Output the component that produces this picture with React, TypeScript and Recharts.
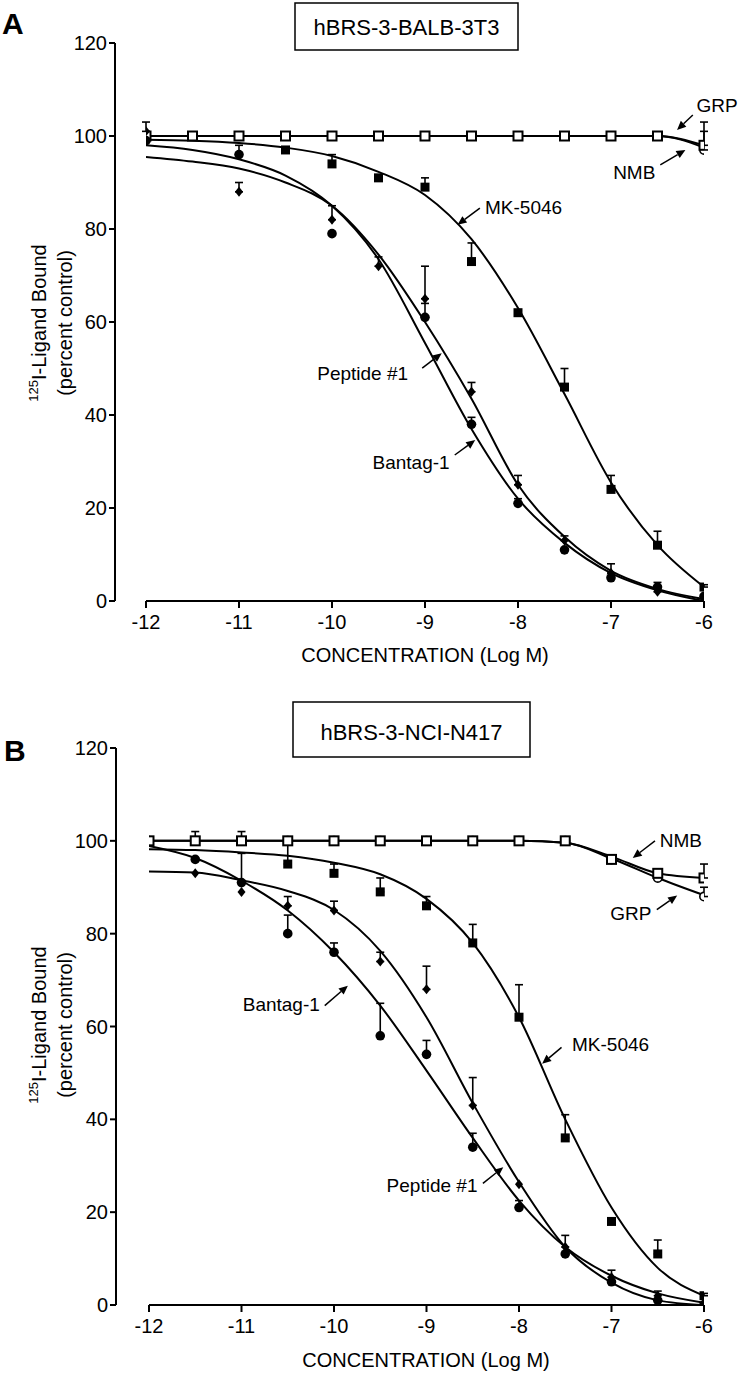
import React from "react";
import {
  ComposedChart,
  Line,
  Scatter,
  ErrorBar,
  XAxis,
  YAxis,
  ReferenceLine,
  ReferenceDot,
} from "recharts";

const FONT = '"Liberation Sans", Arial, sans-serif';

// concentration grid (log M)
const LOG_M = [-12, -11.5, -11, -10.5, -10, -9.5, -9, -8.5, -8, -7.5, -7, -6.5, -6];
const X_TICKS = [-12, -11, -10, -9, -8, -7, -6];
const Y_TICKS = [0, 20, 40, 60, 80, 100, 120];

// panel A: hBRS-3-BALB-3T3 -- measured points (mean) and upward SEM
const A_GRP = [100, 100, 100, 100, 100, 100, 100, 100, 100, 100, 100, 100, 98];
const A_GRP_ERR = [0, 0, 0, 0, 0, 0, 0, 0, 0, 0, 0, 0, 5];
const A_NMB = [100, 100, 100, 100, 100, 100, 100, 100, 100, 100, 100, 100, 97];
const A_NMB_ERR = [0, 0, 0, 0, 0, 0, 0, 0, 0, 0, 0, 0, 4];
const A_MK = [null, null, null, 97, 94, 91, 89, 73, 62, 46, 24, 12, 3];
const A_MK_ERR = [0, 0, 0, 0, 2, 0, 2, 4, 0, 4, 3, 3, 0.5];
const A_PEP = [101, null, 88, null, 82, 72, 65, 45, 25, 13, 6, 2, 0.5];
const A_PEP_ERR = [2, 0, 2, 0, 3, 2, 7, 2, 2, 1, 2, 1, 0];
const A_BAN = [99, null, 96, null, 79, null, 61, 38, 21, 11, 5, 3, 1];
const A_BAN_ERR = [0, 0, 2, 0, 0, 0, 3, 1.5, 1, 0, 0, 1, 0];

// panel A fitted curves read at the same grid
const A_GRP_FIT = [100, 100, 100, 100, 100, 100, 100, 100, 100, 100, 100, 100, 98];
const A_NMB_FIT = [100, 100, 100, 100, 100, 100, 100, 100, 100, 100, 100, 100, 97.5];
const A_MK_FIT = [99.2, 99, 98.5, 97.5, 95.7, 92.3, 87.3, 77.8, 63, 44.5, 25.5, 12, 3];
const A_PEP_FIT = [95.5, 94.5, 93, 90, 85, 74.5, 60, 43.5, 25, 13.8, 6.5, 2.6, 0.4];
const A_BAN_FIT = [98, 97, 95, 91.5, 85, 73.5, 55.5, 37, 22, 12.5, 6, 2.3, 0];

// panel B: hBRS-3-NCI-N417
const B_NMB = [100, 100, 100, 100, 100, 100, 100, 100, 100, 100, 96, 93, 92];
const B_NMB_ERR = [0, 2, 2, 0, 0, 0, 0, 0, 0, 0, 0, 0, 3];
const B_GRP = [100, 100, 100, 100, 100, 100, 100, 100, 100, 100, 96, 92, 88];
const B_GRP_ERR = [0, 0, 0, 0, 0, 0, 0, 0, 0, 0, 0, 0, 2];
const B_MK = [null, null, null, 95, 93, 89, 86, 78, 62, 36, 18, 11, 2];
const B_MK_ERR = [0, 0, 0, 5, 2, 3, 2, 4, 7, 5, 0, 3, 0.5];
const B_PEP = [null, 93, 89, 86, 85, 74, 68, 43, 26, 12.5, 6, 2, 0.5];
const B_PEP_ERR = [0, 0, 0, 2, 2, 2, 5, 6, 0, 2.5, 1.5, 1, 0];
const B_BAN = [null, 96, 91, 80, 76, 58, 54, 34, 21, 11, 5, 1, 0];
const B_BAN_ERR = [0, 0, 6.3, 4, 2, 7, 3, 3, 1.5, 0, 0, 0, 0];

const B_NMB_FIT = [100, 100, 100, 100, 100, 100, 100, 100, 100, 99.6, 96.6, 93, 92];
const B_GRP_FIT = [100, 100, 100, 100, 100, 100, 100, 100, 100, 99.6, 96.2, 92, 88.3];
const B_MK_FIT = [98.2, 98, 97.5, 96.8, 95.3, 92.8, 87.5, 78, 62, 40, 21, 8, 2];
const B_PEP_FIT = [93.4, 93.2, 91.5, 89.2, 85.1, 76.3, 62, 43.5, 26.5, 12.5, 4.8, 1, 0];
const B_BAN_FIT = [98.9, 96.3, 91.4, 85, 76, 64.5, 50.5, 36, 22.5, 12.5, 6.3, 2.5, 0.5];

type Num = number | null;

const points = (ys: Num[], errs: number[]) =>
  LOG_M.map((x, i) => ({ x, y: ys[i], e: errs[i] }))
    .filter((p) => p.y != null)
    .map((p) => ({ x: p.x, y: p.y as number, err: [0, p.e] }));

const curve = (ys: number[]) => LOG_M.map((x, i) => ({ x, y: ys[i] }));

// marker shapes
const OpenSquare = (p: any) => (
  <rect x={p.cx - 4.5} y={p.cy - 4.5} width={9} height={9} fill="#fff" stroke="#000" strokeWidth={2} />
);
const FilledSquare = (p: any) => (
  <rect x={p.cx - 4.5} y={p.cy - 4.5} width={9} height={9} fill="#000" />
);
const OpenCircle = (p: any) => (
  <circle cx={p.cx} cy={p.cy} r={4.2} fill="#fff" stroke="#000" strokeWidth={1.6} />
);
const FilledCircle = (p: any) => <circle cx={p.cx} cy={p.cy} r={4.8} fill="#000" />;
const Diamond = (p: any) => (
  <polygon
    points={`${p.cx},${p.cy - 5} ${p.cx + 4},${p.cy} ${p.cx},${p.cy + 5} ${p.cx - 4},${p.cy}`}
    fill="#000"
  />
);
const Nothing = () => <g />;

const Arrow = (p: any) => {
  const { x1, y1, x2, y2 } = p;
  const a = Math.atan2(y2 - y1, x2 - x1);
  const L = 9;
  const W = 4;
  const bx = x2 - L * Math.cos(a);
  const by = y2 - L * Math.sin(a);
  return (
    <g>
      <line x1={x1} y1={y1} x2={bx} y2={by} stroke="#000" strokeWidth={1.5} />
      <polygon
        points={`${x2},${y2} ${bx - W * Math.sin(a)},${by + W * Math.cos(a)} ${bx + W * Math.sin(a)},${by - W * Math.cos(a)}`}
        fill="#000"
      />
    </g>
  );
};

type Series = {
  pts: ReturnType<typeof points>;
  fit: { x: number; y: number }[];
  shape: (p: any) => React.ReactElement;
};

type Note = { text: string; tx: number; ty: number; ax: [number, number, number, number] };

function Panel({
  series,
  notes,
  height,
  marginTop,
  marginBottom,
  marginLeft,
  padLeft,
}: {
  series: Series[];
  notes: Note[];
  height: number;
  marginTop: number;
  marginBottom: number;
  marginLeft: number;
  padLeft: number;
}) {
  const tick = { fontSize: 20, fill: "#000", fontFamily: FONT };
  return (
    <ComposedChart
      width={740}
      height={height}
      margin={{ top: marginTop, right: 36, bottom: marginBottom, left: marginLeft }}
    >
      <XAxis
        type="number"
        dataKey="x"
        domain={[-12, -6]}
        ticks={X_TICKS}
        padding={{ left: padLeft, right: 0 }}
        axisLine={false}
        tickLine={{ stroke: "#000", strokeWidth: 2 }}
        tickSize={7}
        tickMargin={7}
        tick={tick}
        height={40}
        allowDataOverflow
      />
      <YAxis
        type="number"
        domain={[0, 120]}
        ticks={Y_TICKS}
        axisLine={{ stroke: "#000", strokeWidth: 2 }}
        tickLine={{ stroke: "#000", strokeWidth: 2 }}
        tickSize={6}
        tickMargin={2}
        tick={tick}
        width={60}
        allowDataOverflow
      />
      <ReferenceLine
        segment={[
          { x: -12, y: 0 },
          { x: -6, y: 0 },
        ]}
        stroke="#000"
        strokeWidth={2}
        ifOverflow="visible"
      />
      {series.map((s, i) => (
        <Line
          key={`fit-${i}`}
          data={s.fit}
          dataKey="y"
          type="monotone"
          stroke="#000"
          strokeWidth={2}
          dot={false}
          activeDot={false}
          isAnimationActive={false}
        />
      ))}
      {series.map((s, i) => (
        <Scatter
          key={`err-${i}`}
          data={s.pts.filter((p) => p.err[1] > 0)}
          dataKey="y"
          shape={Nothing}
          isAnimationActive={false}
        >
          <ErrorBar dataKey="err" direction="y" width={4} stroke="#000" strokeWidth={1.6} />
        </Scatter>
      ))}
      {series.map((s, i) => (
        <Scatter key={`pt-${i}`} data={s.pts} dataKey="y" shape={s.shape} isAnimationActive={false} />
      ))}
      {notes.map((n, i) => (
        <ReferenceLine
          key={`ar-${i}`}
          segment={[
            { x: n.ax[0], y: n.ax[1] },
            { x: n.ax[2], y: n.ax[3] },
          ]}
          ifOverflow="visible"
          shape={Arrow}
        />
      ))}
      {notes.map((n, i) => (
        <ReferenceDot
          key={`tx-${i}`}
          x={n.tx}
          y={n.ty}
          r={1}
          ifOverflow="visible"
          shape={(p: any) => (
            <text x={p.cx} y={p.cy} dy={7} textAnchor="middle" fontSize={19} fontFamily={FONT} fill="#000">
              {n.text}
            </text>
          )}
        />
      ))}
    </ComposedChart>
  );
}

const seriesA: Series[] = [
  { pts: points(A_NMB, A_NMB_ERR), fit: curve(A_NMB_FIT), shape: OpenCircle },
  { pts: points(A_GRP, A_GRP_ERR), fit: curve(A_GRP_FIT), shape: OpenSquare },
  { pts: points(A_MK, A_MK_ERR), fit: curve(A_MK_FIT), shape: FilledSquare },
  { pts: points(A_PEP, A_PEP_ERR), fit: curve(A_PEP_FIT), shape: Diamond },
  { pts: points(A_BAN, A_BAN_ERR), fit: curve(A_BAN_FIT), shape: FilledCircle },
];

const seriesB: Series[] = [
  { pts: points(B_GRP, B_GRP_ERR), fit: curve(B_GRP_FIT), shape: OpenCircle },
  { pts: points(B_NMB, B_NMB_ERR), fit: curve(B_NMB_FIT), shape: OpenSquare },
  { pts: points(B_MK, B_MK_ERR), fit: curve(B_MK_FIT), shape: FilledSquare },
  { pts: points(B_PEP, B_PEP_ERR), fit: curve(B_PEP_FIT), shape: Diamond },
  { pts: points(B_BAN, B_BAN_ERR), fit: curve(B_BAN_FIT), shape: FilledCircle },
];

const notesA: Note[] = [
  { text: "GRP", tx: -5.86, ty: 106.7, ax: [-6.12, 104.5, -6.29, 101.3] },
  { text: "NMB", tx: -6.75, ty: 92.3, ax: [-6.47, 93.8, -6.2, 97] },
  { text: "MK-5046", tx: -7.94, ty: 84.7, ax: [-8.41, 84.5, -8.65, 80.9] },
  { text: "Peptide #1", tx: -9.67, ty: 49, ax: [-9.03, 50.1, -8.82, 53.3] },
  { text: "Bantag-1", tx: -9.15, ty: 29.9, ax: [-8.68, 31.4, -8.46, 34.6] },
];

const notesB: Note[] = [
  { text: "NMB", tx: -6.25, ty: 100.2, ax: [-6.53, 100, -6.77, 96.3] },
  { text: "GRP", tx: -6.79, ty: 84.5, ax: [-6.51, 85.2, -6.29, 88.2] },
  { text: "MK-5046", tx: -7.01, ty: 56.3, ax: [-7.54, 55.5, -7.75, 52] },
  { text: "Peptide #1", tx: -8.94, ty: 25.8, ax: [-8.39, 26.2, -8.17, 29.7] },
  { text: "Bantag-1", tx: -10.57, ty: 64.9, ax: [-10.1, 64.5, -9.85, 68.8] },
];

function YTitle({ cy }: { cy: number }) {
  return (
    <g fontFamily={FONT} fill="#000">
      <text transform={`translate(46,${cy}) rotate(-90)`} textAnchor="middle" fontSize={20}>
        <tspan fontSize={13} dy={-8}>
          125
        </tspan>
        <tspan dy={8}>I-Ligand Bound</tspan>
      </text>
      <text transform={`translate(72,${cy}) rotate(-90)`} textAnchor="middle" fontSize={20}>
        (percent control)
      </text>
    </g>
  );
}

export default function App() {
  return (
    <div style={{ position: "absolute", left: 0, top: 0, width: 740, height: 1374, background: "#fff" }}>
      <div style={{ position: "absolute", left: 0, top: 0 }}>
        <Panel
          series={seriesA}
          notes={notesA}
          height={680}
          marginTop={43}
          marginBottom={39}
          marginLeft={55}
          padLeft={31}
        />
      </div>
      <div style={{ position: "absolute", left: 0, top: 700 }}>
        <Panel
          series={seriesB}
          notes={notesB}
          height={674}
          marginTop={48}
          marginBottom={29}
          marginLeft={56}
          padLeft={33}
        />
      </div>
      <svg
        width={740}
        height={1374}
        style={{ position: "absolute", left: 0, top: 0, pointerEvents: "none" }}
        fontFamily={FONT}
      >
        <text x={2} y={34} fontSize={30} fontWeight="bold">
          A
        </text>
        <text x={4} y={761} fontSize={30} fontWeight="bold">
          B
        </text>
        <rect x={295} y={3} width={223} height={47} fill="#fff" stroke="#000" strokeWidth={1.5} />
        <text x={406.5} y={35} textAnchor="middle" fontSize={22}>
          hBRS-3-BALB-3T3
        </text>
        <rect x={293} y={702} width={237} height={55} fill="#fff" stroke="#000" strokeWidth={1.5} />
        <text x={411.5} y={740} textAnchor="middle" fontSize={22}>
          hBRS-3-NCI-N417
        </text>
        <YTitle cy={323} />
        <YTitle cy={1025} />
        <text x={425} y={662} textAnchor="middle" fontSize={20}>
          CONCENTRATION (Log M)
        </text>
        <text x={426} y={1367} textAnchor="middle" fontSize={20}>
          CONCENTRATION (Log M)
        </text>
      </svg>
    </div>
  );
}
